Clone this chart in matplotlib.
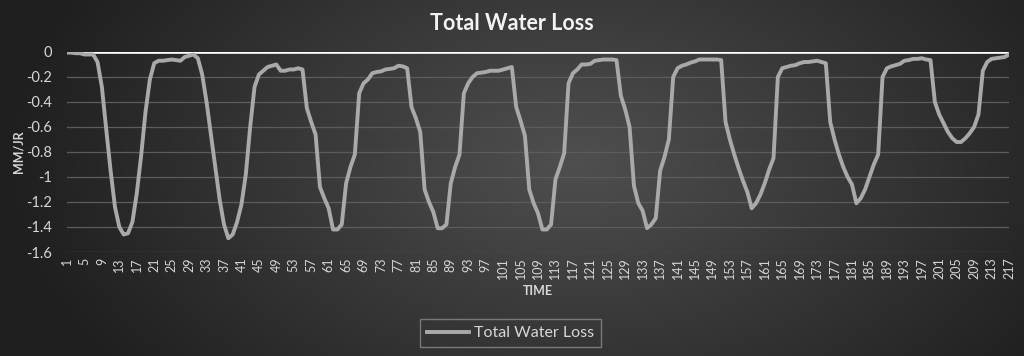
import matplotlib
matplotlib.use("Agg")
import matplotlib.pyplot as plt
import numpy as np

# time steps 1..217 and water loss values (mm/jr)
time = list(range(1, 218))
water_loss = [
    -0.005, -0.005, -0.01, -0.01, -0.02, -0.02, -0.02, -0.08, -0.28, -0.62,     # 1-10
    -0.95, -1.24, -1.40, -1.46, -1.45, -1.36, -1.13, -0.83, -0.48, -0.22,      # 11-20
    -0.09, -0.07, -0.07, -0.065, -0.06, -0.065, -0.07, -0.04, -0.03, -0.02,    # 21-30
    -0.05, -0.18, -0.40, -0.66, -0.92, -1.18, -1.38, -1.49, -1.46, -1.36,      # 31-40
    -1.22, -0.98, -0.60, -0.28, -0.18, -0.15, -0.12, -0.11, -0.10, -0.15,      # 41-50
    -0.15, -0.14, -0.14, -0.13, -0.14, -0.45, -0.56, -0.66, -1.08, -1.17,      # 51-60
    -1.25, -1.42, -1.42, -1.38, -1.05, -0.92, -0.82, -0.33, -0.25, -0.22,      # 61-70
    -0.17, -0.16, -0.155, -0.14, -0.135, -0.13, -0.11, -0.115, -0.13, -0.44,   # 71-80
    -0.53, -0.64, -1.10, -1.20, -1.28, -1.41, -1.41, -1.38, -1.05, -0.92,      # 81-90
    -0.82, -0.33, -0.25, -0.20, -0.17, -0.165, -0.16, -0.15, -0.15, -0.15,     # 91-100
    -0.14, -0.13, -0.12, -0.44, -0.55, -0.67, -1.10, -1.21, -1.29, -1.42,      # 101-110
    -1.42, -1.38, -1.02, -0.92, -0.81, -0.25, -0.17, -0.14, -0.10, -0.10,      # 111-120
    -0.095, -0.07, -0.065, -0.06, -0.06, -0.06, -0.065, -0.35, -0.46, -0.60,   # 121-130
    -1.07, -1.21, -1.27, -1.41, -1.38, -1.33, -0.95, -0.84, -0.70, -0.20,      # 131-140
    -0.13, -0.11, -0.10, -0.085, -0.075, -0.06, -0.06, -0.06, -0.06, -0.06,    # 141-150
    -0.065, -0.56, -0.70, -0.82, -0.93, -1.03, -1.12, -1.25, -1.21, -1.14,     # 151-160
    -1.05, -0.94, -0.85, -0.20, -0.13, -0.12, -0.11, -0.105, -0.09, -0.08,     # 161-170
    -0.08, -0.075, -0.07, -0.08, -0.09, -0.56, -0.70, -0.82, -0.92, -1.00,     # 171-180
    -1.06, -1.21, -1.17, -1.10, -1.00, -0.90, -0.82, -0.20, -0.13, -0.115,     # 181-190
    -0.105, -0.095, -0.07, -0.065, -0.055, -0.055, -0.05, -0.06, -0.065, -0.40, # 191-200
    -0.50, -0.57, -0.64, -0.69, -0.72, -0.72, -0.69, -0.65, -0.60, -0.50,      # 201-210
    -0.15, -0.08, -0.055, -0.05, -0.045, -0.04, -0.02,                         # 211-217
]
y_ticks = [0, -0.2, -0.4, -0.6, -0.8, -1, -1.2, -1.4, -1.6]
y_tick_labels = ["0", "-0.2", "-0.4", "-0.6", "-0.8", "-1", "-1.2", "-1.4", "-1.6"]
x_ticks = list(range(1, 218, 4))

plt.rcParams['font.family'] = ['Lato', 'DejaVu Sans']

fig = plt.figure(figsize=(10.24, 3.56), dpi=100)

# radial dark gradient background
bg = fig.add_axes([0, 0, 1, 1], zorder=-10)
yy, xx = np.mgrid[0:1:356j, 0:1:1024j]
d = np.sqrt(((xx - 0.56) / 0.56) ** 2 + ((yy - 0.45) / 1.0) ** 2)
shade = 0.31 - 0.19 * np.clip(d, 0, 1)
bg.imshow(np.dstack([shade] * 3), aspect='auto', extent=[0, 1, 0, 1])
bg.axis('off')

ax = fig.add_axes([67 / 1024, 1 - 252 / 356, 942 / 1024, 200 / 356])
ax.set_facecolor('none')

ax.axhline(0, color='white', lw=2.6, zorder=2)
ax.plot(time, water_loss, color='#a9a9a9', lw=2.8, solid_joinstyle='round',
        label='Total Water Loss', zorder=3)

ax.set_xlim(1, 217)
ax.set_ylim(-1.6, 0)
ax.set_yticks(y_ticks)
ax.set_yticklabels(y_tick_labels)
ax.set_xticks(x_ticks)
ax.set_xticklabels([str(t) for t in x_ticks], rotation=90)
ax.tick_params(axis='both', length=0, colors='#d6d6d6')
ax.tick_params(axis='y', labelsize=10.5, pad=11)
ax.tick_params(axis='x', labelsize=9, pad=4)
ax.grid(axis='y', color='#5c5c5c', lw=0.9)
for s in ax.spines.values():
    s.set_visible(False)

ax.set_ylabel('MM/JR', color='#d6d6d6', fontsize=9, fontweight='bold')
ax.yaxis.set_label_coords(-0.045, 0.5)
ax.set_xlabel('TIME', color='#d6d6d6', fontsize=9, fontweight='bold', labelpad=4)

fig.text(0.5, 0.935, 'Total Water Loss', ha='center', va='center',
         color='#f2f2f2', fontsize=15.5, fontweight='bold')

leg = fig.legend(loc='center', bbox_to_anchor=(0.4985, 0.064), frameon=True,
                 fontsize=11.5, handlelength=2.6, handletextpad=0.3,
                 borderpad=0.45, fancybox=False)
leg.get_frame().set_facecolor('none')
leg.get_frame().set_edgecolor('#8a8a8a')
leg.get_frame().set_linewidth(1.0)
for t in leg.get_texts():
    t.set_color('#d6d6d6')

plt.savefig('out.png', dpi=100)
plt.close()
